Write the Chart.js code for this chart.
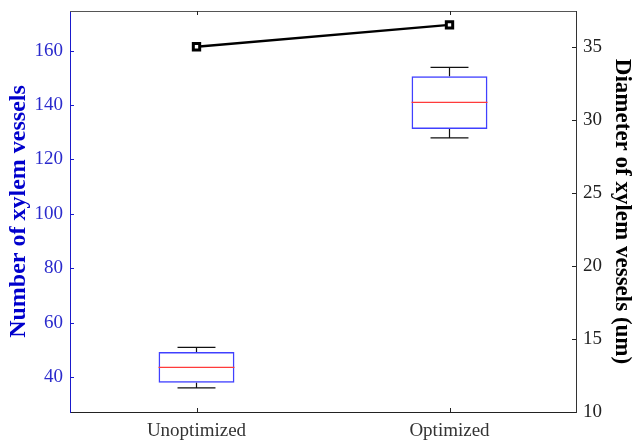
<!DOCTYPE html>
<html>
<head>
<meta charset="utf-8">
<script src="https://cdn.jsdelivr.net/npm/chart.js@4.4.1/dist/chart.umd.min.js"></script>
<style>
  html, body { margin: 0; padding: 0; background: #fff; }
  #wrap { width: 633px; height: 443px; }
</style>
</head>
<body>
<div id="wrap"><canvas id="chart" width="633" height="443"></canvas></div>
<script>
// Data
const categories = ['Unoptimized', 'Optimized'];
const whiskerLow = [36.0, 127.9];
const quartile1 = [37.9, 131.2];
const median = [43.5, 141.0];
const quartile3 = [49.2, 150.6];
const whiskerHigh = [50.9, 153.9];
const diameter = [35.0, 36.5];

const countTicks = [40, 60, 80, 100, 120, 140, 160];
const diameterTicks = [10, 15, 20, 25, 30, 35];

const serif = "'Liberation Serif', 'DejaVu Serif', serif";

// Whiskers, medians and inward tick marks
const boxPlotPlugin = {
    id: 'boxPlot',
    afterDatasetsDraw(chart) {
        const ctx = chart.ctx;
        const x = chart.scales.x;
        const y = chart.scales.y;
        const boxes = chart.getDatasetMeta(1).data;
        ctx.save();
        boxes.forEach((bar, i) => {
            const cx = x.getPixelForValue(i);
            const half = bar.width / 2;
            const cap = half / 2;
            // whiskers
            ctx.strokeStyle = '#111';
            ctx.lineWidth = 1.2;
            ctx.beginPath();
            ctx.moveTo(cx, y.getPixelForValue(quartile3[i]));
            ctx.lineTo(cx, y.getPixelForValue(whiskerHigh[i]));
            ctx.moveTo(cx - cap, y.getPixelForValue(whiskerHigh[i]));
            ctx.lineTo(cx + cap, y.getPixelForValue(whiskerHigh[i]));
            ctx.moveTo(cx, y.getPixelForValue(quartile1[i]));
            ctx.lineTo(cx, y.getPixelForValue(whiskerLow[i]));
            ctx.moveTo(cx - cap, y.getPixelForValue(whiskerLow[i]));
            ctx.lineTo(cx + cap, y.getPixelForValue(whiskerLow[i]));
            ctx.stroke();
            // median
            ctx.strokeStyle = '#ff3b3b';
            ctx.lineWidth = 1.2;
            ctx.beginPath();
            ctx.moveTo(cx - half, y.getPixelForValue(median[i]));
            ctx.lineTo(cx + half, y.getPixelForValue(median[i]));
            ctx.stroke();
        });
        ctx.restore();
    },
    afterDraw(chart) {
        const ctx = chart.ctx;
        const area = chart.chartArea;
        const x = chart.scales.x;
        const y = chart.scales.y;
        const y1 = chart.scales.y1;
        const len = 4;
        ctx.save();
        ctx.lineWidth = 1;
        // top border
        ctx.strokeStyle = '#555';
        ctx.beginPath();
        ctx.moveTo(area.left, area.top + 0.5);
        ctx.lineTo(area.right, area.top + 0.5);
        ctx.stroke();
        // x ticks, bottom and top
        ctx.strokeStyle = '#222';
        ctx.beginPath();
        categories.forEach((c, i) => {
            const px = Math.round(x.getPixelForValue(i)) + 0.5;
            ctx.moveTo(px, area.bottom);
            ctx.lineTo(px, area.bottom - len);
            ctx.moveTo(px, area.top);
            ctx.lineTo(px, area.top + len);
        });
        ctx.stroke();
        // left ticks
        ctx.strokeStyle = '#1a1acc';
        ctx.beginPath();
        countTicks.forEach(v => {
            const py = Math.round(y.getPixelForValue(v)) + 0.5;
            ctx.moveTo(area.left, py);
            ctx.lineTo(area.left + len, py);
        });
        ctx.stroke();
        // right ticks
        ctx.strokeStyle = '#222';
        ctx.beginPath();
        diameterTicks.forEach(v => {
            const py = Math.round(y1.getPixelForValue(v)) + 0.5;
            ctx.moveTo(area.right, py);
            ctx.lineTo(area.right - len, py);
        });
        ctx.stroke();
        ctx.restore();
    }
};

new Chart(document.getElementById('chart').getContext('2d'), {
    type: 'bar',
    data: {
        labels: categories,
        datasets: [{
            type: 'line',
            label: 'Diameter',
            data: diameter,
            yAxisID: 'y1',
            borderColor: '#000',
            borderWidth: 2.5,
            pointStyle: 'rect',
            pointRadius: 4.5,
            pointBackgroundColor: '#fff',
            pointBorderColor: '#000',
            pointBorderWidth: 3,
            tension: 0
        }, {
            label: 'Number',
            data: categories.map((c, i) => [quartile1[i], quartile3[i]]),
            yAxisID: 'y',
            backgroundColor: 'rgba(0,0,0,0)',
            borderColor: '#4040ff',
            borderWidth: 1.5,
            borderSkipped: false,
            barPercentage: 0.3,
            categoryPercentage: 1
        }]
    },
    options: {
        responsive: false,
        animation: false,
        layout: { padding: { top: 11 } },
        plugins: {
            legend: { display: false },
            tooltip: { enabled: false }
        },
        scales: {
            x: {
                type: 'category',
                offset: true,
                grid: { drawOnChartArea: false, drawTicks: false },
                border: { color: '#222', width: 1 },
                ticks: { color: '#333', padding: 8, font: { family: serif, size: 19 } },
                afterFit: s => { s.height = 31; }
            },
            y: {
                position: 'left',
                min: 27.1,
                max: 174.6,
                grid: { drawOnChartArea: false, drawTicks: false },
                border: { color: '#1a1acc', width: 1 },
                ticks: { color: '#2a2acc', padding: 7, font: { family: serif, size: 19 } },
                afterBuildTicks: s => { s.ticks = countTicks.map(v => ({ value: v })); },
                afterFit: s => { s.width = 70; s.paddingTop = 0; s.paddingBottom = 0; },
                title: {
                    display: true,
                    text: 'Number of xylem vessels',
                    color: '#0000cc',
                    font: { family: serif, size: 24, weight: 'bold' }
                }
            },
            y1: {
                position: 'right',
                min: 10,
                max: 37.45,
                grid: { drawOnChartArea: false, drawTicks: false },
                border: { color: '#333', width: 1 },
                ticks: { color: '#222', padding: 7, font: { family: serif, size: 19 } },
                afterBuildTicks: s => { s.ticks = diameterTicks.map(v => ({ value: v })); },
                afterFit: s => { s.width = 57; s.paddingTop = 0; s.paddingBottom = 0; },
                title: {
                    display: true,
                    text: 'Diameter of xylem vessels (um)',
                    color: '#000',
                    padding: { top: -2.5, bottom: 4 },
                    font: { family: serif, size: 23, weight: 'bold' }
                }
            }
        }
    },
    plugins: [boxPlotPlugin]
});
</script>
</body>
</html>
